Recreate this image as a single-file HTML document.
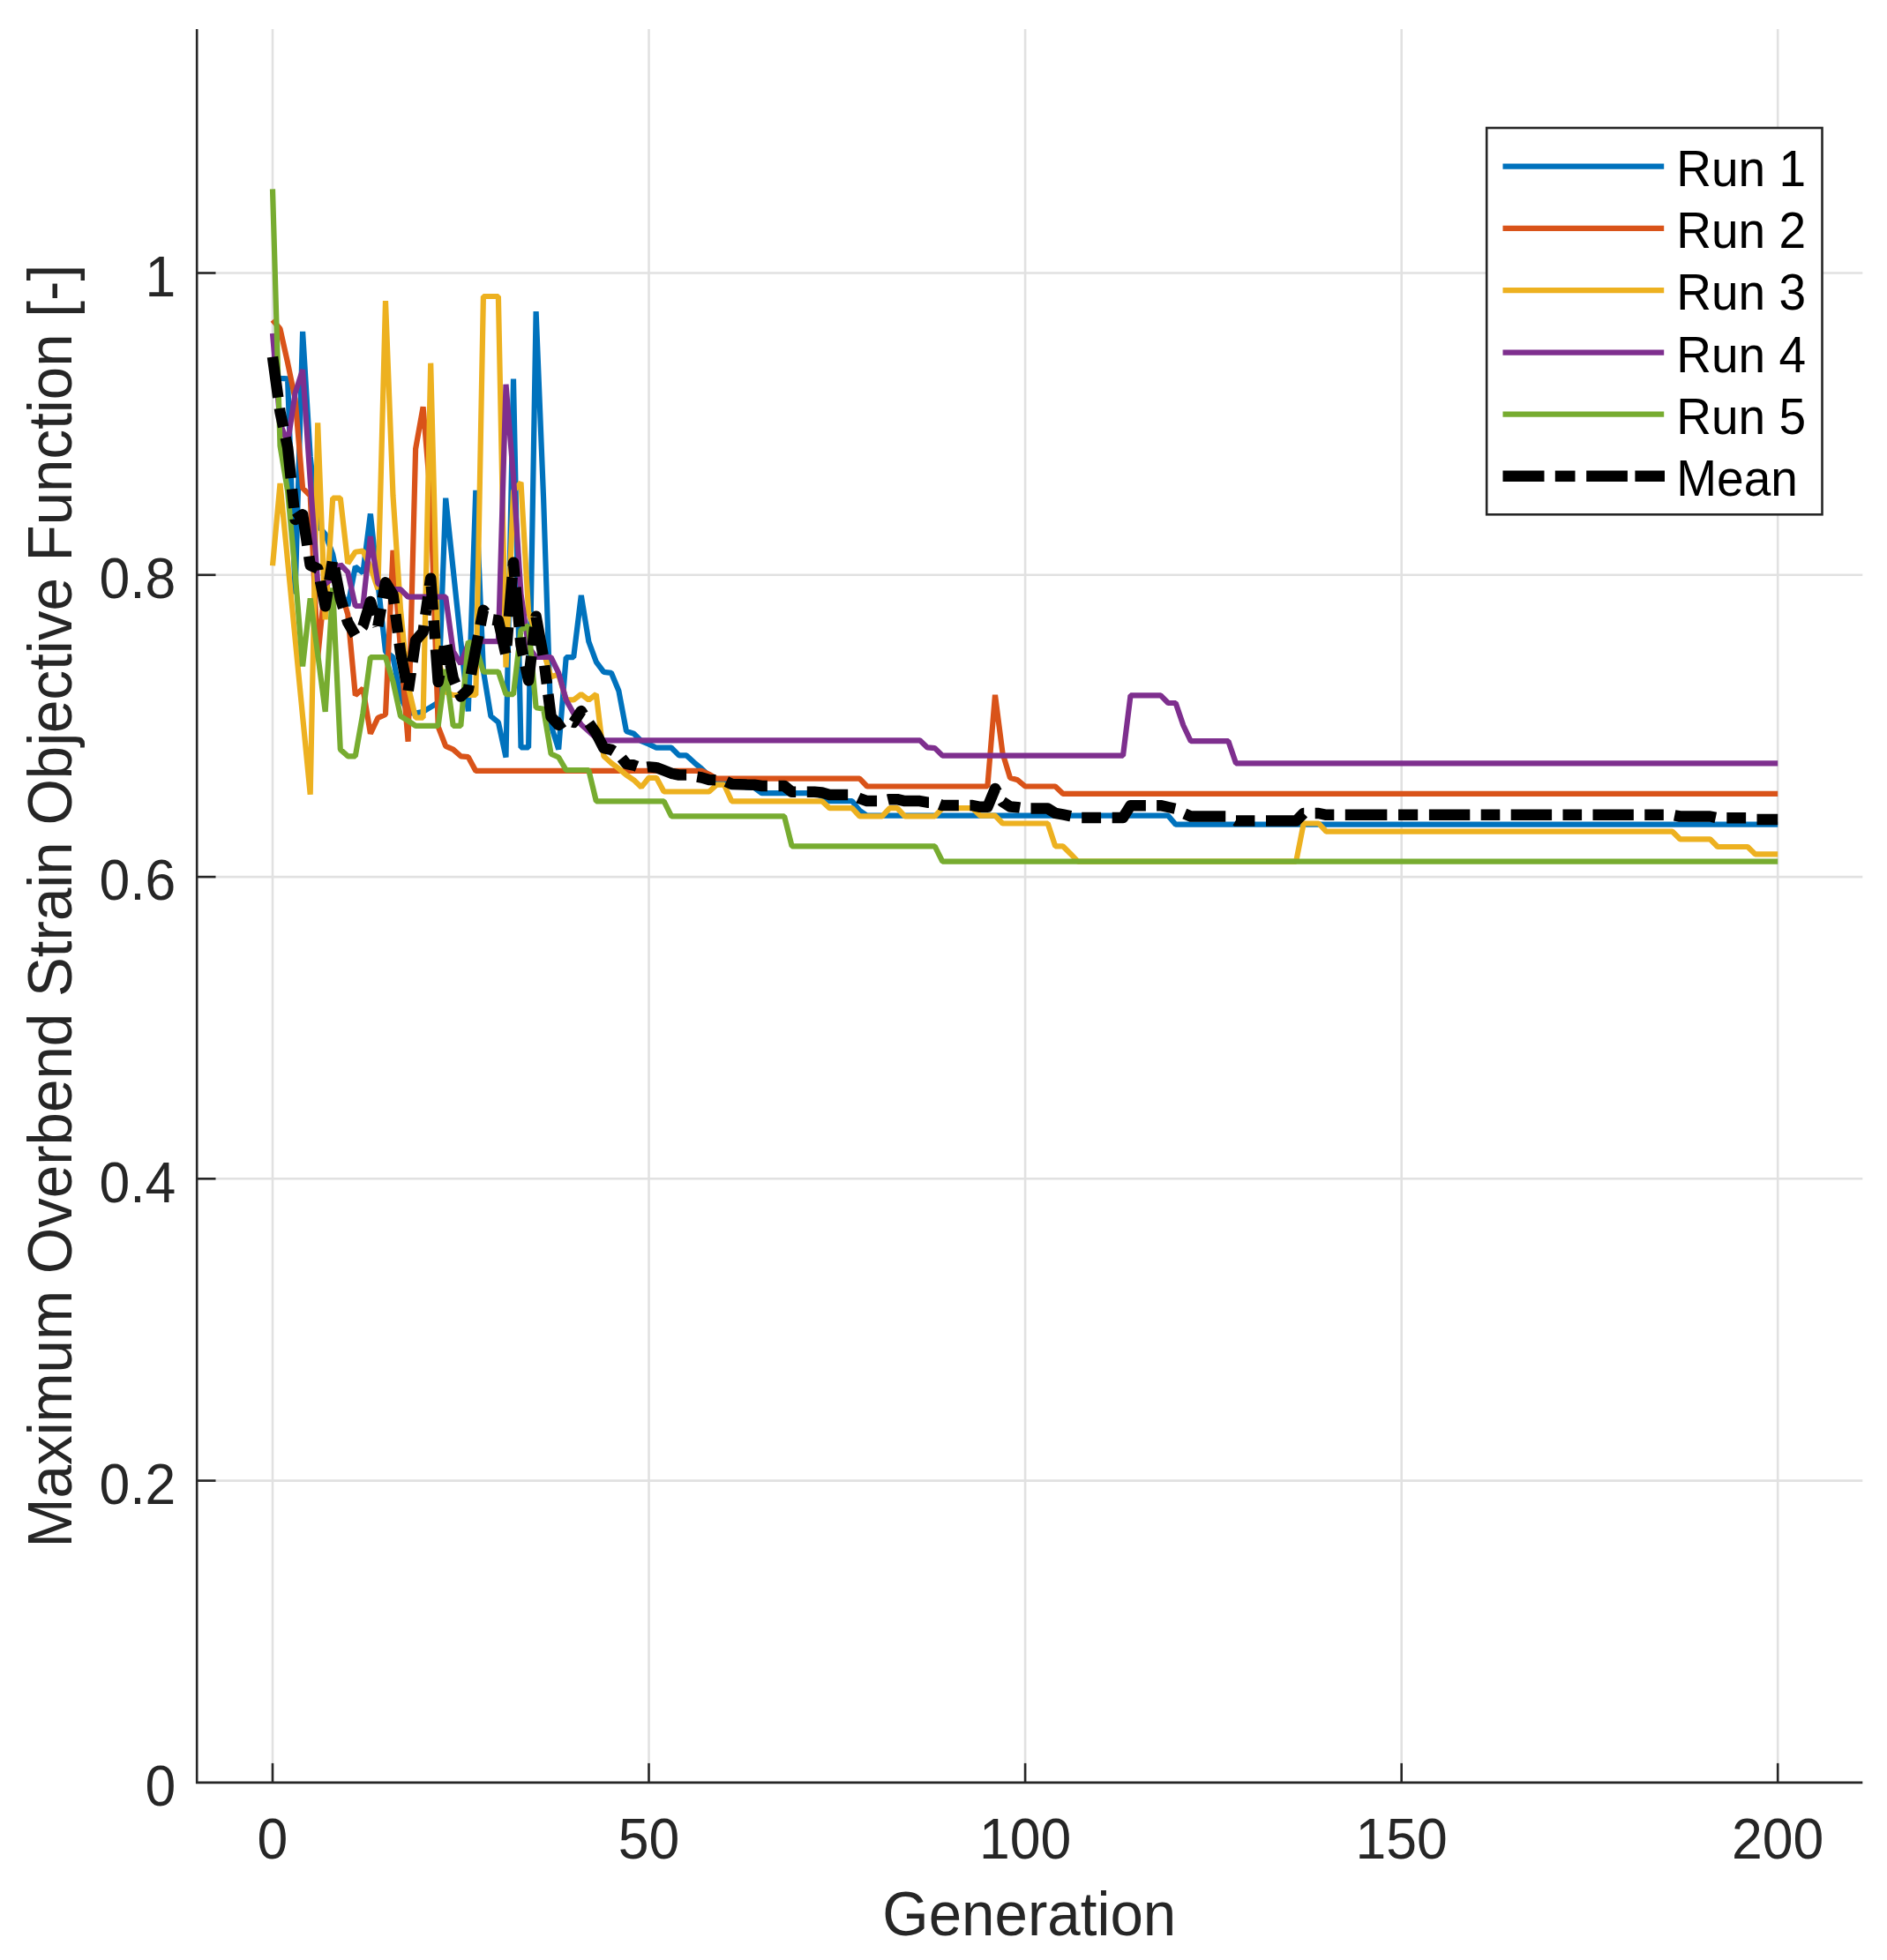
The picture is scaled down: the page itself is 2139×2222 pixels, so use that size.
<!DOCTYPE html>
<html><head><meta charset="utf-8"><title>Convergence</title>
<style>
html,body{margin:0;padding:0;background:#fff;}
body{width:2139px;height:2222px;overflow:hidden;}
svg{display:block;filter:blur(0.7px);}
text{font-family:"Liberation Sans",Arial,Helvetica,sans-serif;fill:#262626;font-kerning:none;}
.tick{font-size:62.5px;}
.lab{font-size:67.3px;}
.leg{font-size:55px;fill:#000;}
</style></head><body>
<svg width="2139" height="2222" viewBox="0 0 2139 2222">
<rect width="2139" height="2222" fill="#fff"/>

<g stroke="#e1e1e1" stroke-width="2.6" fill="none">
<line x1="309.0" y1="33.0" x2="309.0" y2="2020.9"/>
<line x1="735.5" y1="33.0" x2="735.5" y2="2020.9"/>
<line x1="1162.1" y1="33.0" x2="1162.1" y2="2020.9"/>
<line x1="1588.7" y1="33.0" x2="1588.7" y2="2020.9"/>
<line x1="2015.2" y1="33.0" x2="2015.2" y2="2020.9"/>
<line x1="223.2" y1="1678.6" x2="2111.3" y2="1678.6"/>
<line x1="223.2" y1="1336.3" x2="2111.3" y2="1336.3"/>
<line x1="223.2" y1="994.1" x2="2111.3" y2="994.1"/>
<line x1="223.2" y1="651.8" x2="2111.3" y2="651.8"/>
<line x1="223.2" y1="309.5" x2="2111.3" y2="309.5"/>
</g>
<g fill="none" stroke-linejoin="bevel" stroke-linecap="butt" stroke-width="6.2">
<path stroke="#0072BD" d="M309.0,426.7 L317.5,428.8 L326.1,429.3 L334.6,673.3 L343.1,375.9 L351.7,517.5 L360.2,595.4 L368.7,605.5 L377.2,628.4 L385.8,669.8 L394.3,687.0 L402.8,642.4 L411.4,649.3 L419.9,582.5 L428.4,661.3 L437.0,738.7 L445.5,745.0 L454.0,789.7 L462.6,808.5 L471.1,808.5 L479.6,806.8 L488.2,801.7 L496.7,796.5 L505.2,564.7 L513.7,645.9 L522.3,727.2 L530.8,806.3 L539.3,555.8 L547.9,760.6 L556.4,811.9 L564.9,818.8 L573.5,858.5 L582.0,429.5 L590.5,847.4 L599.1,847.4 L607.6,353.1 L616.1,565.4 L624.6,822.2 L633.2,849.6 L641.7,745.2 L650.2,745.2 L658.8,675.0 L667.3,727.2 L675.8,750.3 L684.4,761.9 L692.9,762.8 L701.4,783.3 L710.0,829.0 L718.5,831.8 L727.0,840.2 L735.5,843.6 L744.1,847.7 L752.6,847.7 L761.1,847.7 L769.7,856.4 L778.2,856.4 L786.7,864.3 L795.3,871.5 L803.8,879.6 L812.3,883.8 L820.9,887.3 L829.4,889.0 L837.9,890.7 L846.5,892.4 L855.0,892.9 L863.5,899.2 L872.0,899.2 L880.6,899.2 L889.1,899.2 L897.6,899.2 L906.2,899.2 L914.7,899.2 L923.2,899.2 L931.8,902.7 L940.3,908.1 L948.8,908.1 L957.4,908.1 L965.9,908.1 L974.4,918.9 L982.9,924.7 L991.5,924.7 L1000.0,924.7 L1008.5,924.7 L1017.1,924.7 L1025.6,924.7 L1034.1,924.7 L1042.7,924.7 L1051.2,924.7 L1059.7,924.7 L1068.3,924.7 L1076.8,924.7 L1085.3,924.7 L1093.9,924.7 L1102.4,924.7 L1110.9,924.7 L1119.4,924.7 L1128.0,924.7 L1136.5,924.7 L1145.0,924.7 L1153.6,924.7 L1162.1,924.7 L1170.6,924.7 L1179.2,924.7 L1187.7,924.7 L1196.2,924.7 L1204.8,924.7 L1213.3,924.7 L1221.8,924.7 L1230.3,924.7 L1238.9,924.7 L1247.4,924.7 L1255.9,924.7 L1264.5,924.7 L1273.0,924.7 L1281.5,924.7 L1290.1,924.7 L1298.6,924.7 L1307.1,924.7 L1315.7,924.7 L1324.2,924.7 L1332.7,934.7 L1341.3,934.7 L1349.8,934.7 L1358.3,934.7 L1366.8,934.7 L1375.4,934.7 L1383.9,934.7 L1392.4,934.7 L1401.0,934.7 L1409.5,934.7 L1418.0,934.7 L1426.6,934.7 L1435.1,934.7 L1443.6,934.7 L1452.2,934.7 L1460.7,934.7 L1469.2,934.7 L1477.7,934.7 L1486.3,934.7 L1494.8,934.7 L1503.3,934.7 L1511.9,934.7 L1520.4,934.7 L1528.9,934.7 L1537.5,934.7 L1546.0,934.7 L1554.5,934.7 L1563.1,934.7 L1571.6,934.7 L1580.1,934.7 L1588.7,934.7 L1597.2,934.7 L1605.7,934.7 L1614.2,934.7 L1622.8,934.7 L1631.3,934.7 L1639.8,934.7 L1648.4,934.7 L1656.9,934.7 L1665.4,934.7 L1674.0,934.7 L1682.5,934.7 L1691.0,934.7 L1699.6,934.7 L1708.1,934.7 L1716.6,934.7 L1725.1,934.7 L1733.7,934.7 L1742.2,934.7 L1750.7,934.7 L1759.3,934.7 L1767.8,934.7 L1776.3,934.7 L1784.9,934.7 L1793.4,934.7 L1801.9,934.7 L1810.5,934.7 L1819.0,934.7 L1827.5,934.7 L1836.0,934.7 L1844.6,934.7 L1853.1,934.7 L1861.6,934.7 L1870.2,934.7 L1878.7,934.7 L1887.2,934.7 L1895.8,934.7 L1904.3,934.7 L1912.8,934.7 L1921.4,934.7 L1929.9,934.7 L1938.4,934.7 L1947.0,934.7 L1955.5,934.7 L1964.0,934.7 L1972.5,934.7 L1981.1,934.7 L1989.6,934.7 L1998.1,934.7 L2006.7,934.7 L2015.2,934.7"/>
<path stroke="#D95319" d="M309.0,362.7 L317.5,372.8 L326.1,411.3 L334.6,452.4 L343.1,553.4 L351.7,562.0 L360.2,745.2 L368.7,659.6 L377.2,656.1 L385.8,668.1 L394.3,696.5 L402.8,788.3 L411.4,780.6 L419.9,831.8 L428.4,813.8 L437.0,810.0 L445.5,623.8 L454.0,736.6 L462.6,840.7 L471.1,508.9 L479.6,461.3 L488.2,565.4 L496.7,823.9 L505.2,845.8 L513.7,849.6 L522.3,857.3 L530.8,858.2 L539.3,873.9 L547.9,873.9 L556.4,873.9 L564.9,873.9 L573.5,873.9 L582.0,873.9 L590.5,873.9 L599.1,873.9 L607.6,873.9 L616.1,873.9 L624.6,873.9 L633.2,873.9 L641.7,873.9 L650.2,873.9 L658.8,873.9 L667.3,873.9 L675.8,873.9 L684.4,873.9 L692.9,873.9 L701.4,873.9 L710.0,873.9 L718.5,873.9 L727.0,873.9 L735.5,873.9 L744.1,873.9 L752.6,873.9 L761.1,873.9 L769.7,873.9 L778.2,873.9 L786.7,873.9 L795.3,873.9 L803.8,877.8 L812.3,882.6 L820.9,882.6 L829.4,882.6 L837.9,882.6 L846.5,882.6 L855.0,882.6 L863.5,882.6 L872.0,882.6 L880.6,882.6 L889.1,882.6 L897.6,882.6 L906.2,882.6 L914.7,882.6 L923.2,882.6 L931.8,882.6 L940.3,882.6 L948.8,882.6 L957.4,882.6 L965.9,882.6 L974.4,882.6 L982.9,891.5 L991.5,891.5 L1000.0,891.5 L1008.5,891.5 L1017.1,891.5 L1025.6,891.5 L1034.1,891.5 L1042.7,891.5 L1051.2,891.5 L1059.7,891.5 L1068.3,891.5 L1076.8,891.5 L1085.3,891.5 L1093.9,891.5 L1102.4,891.5 L1110.9,891.5 L1119.4,891.5 L1128.0,787.8 L1136.5,853.9 L1145.0,881.8 L1153.6,884.3 L1162.1,891.5 L1170.6,891.5 L1179.2,891.5 L1187.7,891.5 L1196.2,891.5 L1204.8,899.8 L1213.3,899.8 L1221.8,899.8 L1230.3,899.8 L1238.9,899.8 L1247.4,899.8 L1255.9,899.8 L1264.5,899.8 L1273.0,899.8 L1281.5,899.8 L1290.1,899.8 L1298.6,899.8 L1307.1,899.8 L1315.7,899.8 L1324.2,899.8 L1332.7,899.8 L1341.3,899.8 L1349.8,899.8 L1358.3,899.8 L1366.8,899.8 L1375.4,899.8 L1383.9,899.8 L1392.4,899.8 L1401.0,899.8 L1409.5,899.8 L1418.0,899.8 L1426.6,899.8 L1435.1,899.8 L1443.6,899.8 L1452.2,899.8 L1460.7,899.8 L1469.2,899.8 L1477.7,899.8 L1486.3,899.8 L1494.8,899.8 L1503.3,899.8 L1511.9,899.8 L1520.4,899.8 L1528.9,899.8 L1537.5,899.8 L1546.0,899.8 L1554.5,899.8 L1563.1,899.8 L1571.6,899.8 L1580.1,899.8 L1588.7,899.8 L1597.2,899.8 L1605.7,899.8 L1614.2,899.8 L1622.8,899.8 L1631.3,899.8 L1639.8,899.8 L1648.4,899.8 L1656.9,899.8 L1665.4,899.8 L1674.0,899.8 L1682.5,899.8 L1691.0,899.8 L1699.6,899.8 L1708.1,899.8 L1716.6,899.8 L1725.1,899.8 L1733.7,899.8 L1742.2,899.8 L1750.7,899.8 L1759.3,899.8 L1767.8,899.8 L1776.3,899.8 L1784.9,899.8 L1793.4,899.8 L1801.9,899.8 L1810.5,899.8 L1819.0,899.8 L1827.5,899.8 L1836.0,899.8 L1844.6,899.8 L1853.1,899.8 L1861.6,899.8 L1870.2,899.8 L1878.7,899.8 L1887.2,899.8 L1895.8,899.8 L1904.3,899.8 L1912.8,899.8 L1921.4,899.8 L1929.9,899.8 L1938.4,899.8 L1947.0,899.8 L1955.5,899.8 L1964.0,899.8 L1972.5,899.8 L1981.1,899.8 L1989.6,899.8 L1998.1,899.8 L2006.7,899.8 L2015.2,899.8"/>
<path stroke="#EDB120" d="M309.0,641.2 L317.5,548.1 L326.1,636.3 L334.6,724.3 L343.1,812.4 L351.7,900.6 L360.2,479.3 L368.7,702.4 L377.2,564.7 L385.8,564.7 L394.3,638.7 L402.8,625.8 L411.4,624.6 L419.9,642.4 L428.4,668.1 L437.0,341.1 L445.5,562.0 L454.0,690.4 L462.6,777.7 L471.1,813.6 L479.6,813.6 L488.2,411.7 L496.7,745.2 L505.2,784.5 L513.7,788.0 L522.3,788.0 L530.8,788.0 L539.3,788.0 L547.9,336.0 L556.4,336.0 L564.9,336.0 L573.5,756.5 L582.0,556.8 L590.5,546.9 L599.1,693.8 L607.6,719.5 L616.1,738.7 L624.6,767.4 L633.2,764.5 L641.7,793.4 L650.2,793.4 L658.8,787.1 L667.3,793.4 L675.8,787.1 L684.4,857.3 L692.9,865.0 L701.4,871.3 L710.0,878.7 L718.5,884.3 L727.0,892.4 L735.5,881.8 L744.1,881.8 L752.6,897.5 L761.1,897.5 L769.7,897.5 L778.2,897.5 L786.7,897.5 L795.3,897.5 L803.8,897.5 L812.3,889.7 L820.9,889.7 L829.4,908.3 L837.9,908.3 L846.5,908.3 L855.0,908.3 L863.5,908.3 L872.0,908.3 L880.6,908.3 L889.1,908.3 L897.6,908.3 L906.2,908.3 L914.7,908.3 L923.2,908.3 L931.8,908.3 L940.3,916.2 L948.8,916.2 L957.4,916.2 L965.9,916.2 L974.4,925.4 L982.9,925.4 L991.5,925.4 L1000.0,925.4 L1008.5,916.2 L1017.1,916.2 L1025.6,925.4 L1034.1,925.4 L1042.7,925.4 L1051.2,925.4 L1059.7,925.4 L1068.3,916.2 L1076.8,916.2 L1085.3,916.2 L1093.9,916.2 L1102.4,916.2 L1110.9,924.6 L1119.4,924.6 L1128.0,924.6 L1136.5,933.5 L1145.0,933.5 L1153.6,933.5 L1162.1,933.5 L1170.6,933.5 L1179.2,933.5 L1187.7,933.5 L1196.2,959.3 L1204.8,959.3 L1213.3,967.7 L1221.8,976.6 L1230.3,976.6 L1238.9,976.6 L1247.4,976.6 L1255.9,976.6 L1264.5,976.6 L1273.0,976.6 L1281.5,976.6 L1290.1,976.6 L1298.6,976.6 L1307.1,976.6 L1315.7,976.6 L1324.2,976.6 L1332.7,976.6 L1341.3,976.6 L1349.8,976.6 L1358.3,976.6 L1366.8,976.6 L1375.4,976.6 L1383.9,976.6 L1392.4,976.6 L1401.0,976.6 L1409.5,976.6 L1418.0,976.6 L1426.6,976.6 L1435.1,976.6 L1443.6,976.6 L1452.2,976.6 L1460.7,976.6 L1469.2,976.6 L1477.7,933.5 L1486.3,933.5 L1494.8,933.5 L1503.3,942.7 L1511.9,942.7 L1520.4,942.7 L1528.9,942.7 L1537.5,942.7 L1546.0,942.7 L1554.5,942.7 L1563.1,942.7 L1571.6,942.7 L1580.1,942.7 L1588.7,942.7 L1597.2,942.7 L1605.7,942.7 L1614.2,942.7 L1622.8,942.7 L1631.3,942.7 L1639.8,942.7 L1648.4,942.7 L1656.9,942.7 L1665.4,942.7 L1674.0,942.7 L1682.5,942.7 L1691.0,942.7 L1699.6,942.7 L1708.1,942.7 L1716.6,942.7 L1725.1,942.7 L1733.7,942.7 L1742.2,942.7 L1750.7,942.7 L1759.3,942.7 L1767.8,942.7 L1776.3,942.7 L1784.9,942.7 L1793.4,942.7 L1801.9,942.7 L1810.5,942.7 L1819.0,942.7 L1827.5,942.7 L1836.0,942.7 L1844.6,942.7 L1853.1,942.7 L1861.6,942.7 L1870.2,942.7 L1878.7,942.7 L1887.2,942.7 L1895.8,942.7 L1904.3,951.3 L1912.8,951.3 L1921.4,951.3 L1929.9,951.3 L1938.4,951.3 L1947.0,960.0 L1955.5,960.0 L1964.0,960.0 L1972.5,960.0 L1981.1,960.0 L1989.6,968.4 L1998.1,968.4 L2006.7,968.4 L2015.2,968.4"/>
<path stroke="#7E2F8E" d="M309.0,377.9 L317.5,479.8 L326.1,502.1 L334.6,445.6 L343.1,419.2 L351.7,544.9 L360.2,661.6 L368.7,662.1 L377.2,655.3 L385.8,639.9 L394.3,648.9 L402.8,687.0 L411.4,687.0 L419.9,608.2 L428.4,661.6 L437.0,666.4 L445.5,668.1 L454.0,668.1 L462.6,676.7 L471.1,676.7 L479.6,676.7 L488.2,676.7 L496.7,676.7 L505.2,676.7 L513.7,738.3 L522.3,752.7 L530.8,729.8 L539.3,727.2 L547.9,727.2 L556.4,727.2 L564.9,727.2 L573.5,435.8 L582.0,541.4 L590.5,673.3 L599.1,733.2 L607.6,745.0 L616.1,745.0 L624.6,745.0 L633.2,762.8 L641.7,793.4 L650.2,808.8 L658.8,821.5 L667.3,829.0 L675.8,836.8 L684.4,839.3 L692.9,839.3 L701.4,839.3 L710.0,839.3 L718.5,839.3 L727.0,839.3 L735.5,839.3 L744.1,839.3 L752.6,839.3 L761.1,839.3 L769.7,839.3 L778.2,839.3 L786.7,839.3 L795.3,839.3 L803.8,839.3 L812.3,839.3 L820.9,839.3 L829.4,839.3 L837.9,839.3 L846.5,839.3 L855.0,839.3 L863.5,839.3 L872.0,839.3 L880.6,839.3 L889.1,839.3 L897.6,839.3 L906.2,839.3 L914.7,839.3 L923.2,839.3 L931.8,839.3 L940.3,839.3 L948.8,839.3 L957.4,839.3 L965.9,839.3 L974.4,839.3 L982.9,839.3 L991.5,839.3 L1000.0,839.3 L1008.5,839.3 L1017.1,839.3 L1025.6,839.3 L1034.1,839.3 L1042.7,839.3 L1051.2,847.4 L1059.7,848.1 L1068.3,856.6 L1076.8,856.6 L1085.3,856.6 L1093.9,856.6 L1102.4,856.6 L1110.9,856.6 L1119.4,856.6 L1128.0,856.6 L1136.5,856.6 L1145.0,856.6 L1153.6,856.6 L1162.1,856.6 L1170.6,856.6 L1179.2,856.6 L1187.7,856.6 L1196.2,856.6 L1204.8,856.6 L1213.3,856.6 L1221.8,856.6 L1230.3,856.6 L1238.9,856.6 L1247.4,856.6 L1255.9,856.6 L1264.5,856.6 L1273.0,856.6 L1281.5,788.3 L1290.1,788.3 L1298.6,788.3 L1307.1,788.3 L1315.7,788.3 L1324.2,797.0 L1332.7,797.0 L1341.3,822.2 L1349.8,840.2 L1358.3,840.2 L1366.8,840.2 L1375.4,840.2 L1383.9,840.2 L1392.4,840.2 L1401.0,865.3 L1409.5,865.3 L1418.0,865.3 L1426.6,865.3 L1435.1,865.3 L1443.6,865.3 L1452.2,865.3 L1460.7,865.3 L1469.2,865.3 L1477.7,865.3 L1486.3,865.3 L1494.8,865.3 L1503.3,865.3 L1511.9,865.3 L1520.4,865.3 L1528.9,865.3 L1537.5,865.3 L1546.0,865.3 L1554.5,865.3 L1563.1,865.3 L1571.6,865.3 L1580.1,865.3 L1588.7,865.3 L1597.2,865.3 L1605.7,865.3 L1614.2,865.3 L1622.8,865.3 L1631.3,865.3 L1639.8,865.3 L1648.4,865.3 L1656.9,865.3 L1665.4,865.3 L1674.0,865.3 L1682.5,865.3 L1691.0,865.3 L1699.6,865.3 L1708.1,865.3 L1716.6,865.3 L1725.1,865.3 L1733.7,865.3 L1742.2,865.3 L1750.7,865.3 L1759.3,865.3 L1767.8,865.3 L1776.3,865.3 L1784.9,865.3 L1793.4,865.3 L1801.9,865.3 L1810.5,865.3 L1819.0,865.3 L1827.5,865.3 L1836.0,865.3 L1844.6,865.3 L1853.1,865.3 L1861.6,865.3 L1870.2,865.3 L1878.7,865.3 L1887.2,865.3 L1895.8,865.3 L1904.3,865.3 L1912.8,865.3 L1921.4,865.3 L1929.9,865.3 L1938.4,865.3 L1947.0,865.3 L1955.5,865.3 L1964.0,865.3 L1972.5,865.3 L1981.1,865.3 L1989.6,865.3 L1998.1,865.3 L2006.7,865.3 L2015.2,865.3"/>
<path stroke="#77AC30" d="M309.0,214.4 L317.5,505.5 L326.1,556.8 L334.6,649.3 L343.1,755.4 L351.7,678.4 L360.2,741.7 L368.7,806.8 L377.2,666.4 L385.8,849.6 L394.3,857.3 L402.8,857.3 L411.4,808.5 L419.9,745.2 L428.4,745.2 L437.0,745.2 L445.5,772.6 L454.0,811.9 L462.6,817.1 L471.1,822.9 L479.6,822.9 L488.2,822.9 L496.7,822.9 L505.2,758.9 L513.7,822.9 L522.3,822.9 L530.8,727.2 L539.3,733.2 L547.9,761.6 L556.4,761.6 L564.9,761.6 L573.5,787.1 L582.0,787.1 L590.5,714.3 L599.1,709.2 L607.6,802.3 L616.1,803.7 L624.6,854.7 L633.2,858.5 L641.7,873.0 L650.2,873.0 L658.8,873.0 L667.3,873.0 L675.8,908.3 L684.4,908.3 L692.9,908.3 L701.4,908.3 L710.0,908.3 L718.5,908.3 L727.0,908.3 L735.5,908.3 L744.1,908.3 L752.6,908.3 L761.1,925.4 L769.7,925.4 L778.2,925.4 L786.7,925.4 L795.3,925.4 L803.8,925.4 L812.3,925.4 L820.9,925.4 L829.4,925.4 L837.9,925.4 L846.5,925.4 L855.0,925.4 L863.5,925.4 L872.0,925.4 L880.6,925.4 L889.1,925.4 L897.6,959.3 L906.2,959.3 L914.7,959.3 L923.2,959.3 L931.8,959.3 L940.3,959.3 L948.8,959.3 L957.4,959.3 L965.9,959.3 L974.4,959.3 L982.9,959.3 L991.5,959.3 L1000.0,959.3 L1008.5,959.3 L1017.1,959.3 L1025.6,959.3 L1034.1,959.3 L1042.7,959.3 L1051.2,959.3 L1059.7,959.3 L1068.3,976.6 L1076.8,976.6 L1085.3,976.6 L1093.9,976.6 L1102.4,976.6 L1110.9,976.6 L1119.4,976.6 L1128.0,976.6 L1136.5,976.6 L1145.0,976.6 L1153.6,976.6 L1162.1,976.6 L1170.6,976.6 L1179.2,976.6 L1187.7,976.6 L1196.2,976.6 L1204.8,976.6 L1213.3,976.6 L1221.8,976.6 L1230.3,976.6 L1238.9,976.6 L1247.4,976.6 L1255.9,976.6 L1264.5,976.6 L1273.0,976.6 L1281.5,976.6 L1290.1,976.6 L1298.6,976.6 L1307.1,976.6 L1315.7,976.6 L1324.2,976.6 L1332.7,976.6 L1341.3,976.6 L1349.8,976.6 L1358.3,976.6 L1366.8,976.6 L1375.4,976.6 L1383.9,976.6 L1392.4,976.6 L1401.0,976.6 L1409.5,976.6 L1418.0,976.6 L1426.6,976.6 L1435.1,976.6 L1443.6,976.6 L1452.2,976.6 L1460.7,976.6 L1469.2,976.6 L1477.7,976.6 L1486.3,976.6 L1494.8,976.6 L1503.3,976.6 L1511.9,976.6 L1520.4,976.6 L1528.9,976.6 L1537.5,976.6 L1546.0,976.6 L1554.5,976.6 L1563.1,976.6 L1571.6,976.6 L1580.1,976.6 L1588.7,976.6 L1597.2,976.6 L1605.7,976.6 L1614.2,976.6 L1622.8,976.6 L1631.3,976.6 L1639.8,976.6 L1648.4,976.6 L1656.9,976.6 L1665.4,976.6 L1674.0,976.6 L1682.5,976.6 L1691.0,976.6 L1699.6,976.6 L1708.1,976.6 L1716.6,976.6 L1725.1,976.6 L1733.7,976.6 L1742.2,976.6 L1750.7,976.6 L1759.3,976.6 L1767.8,976.6 L1776.3,976.6 L1784.9,976.6 L1793.4,976.6 L1801.9,976.6 L1810.5,976.6 L1819.0,976.6 L1827.5,976.6 L1836.0,976.6 L1844.6,976.6 L1853.1,976.6 L1861.6,976.6 L1870.2,976.6 L1878.7,976.6 L1887.2,976.6 L1895.8,976.6 L1904.3,976.6 L1912.8,976.6 L1921.4,976.6 L1929.9,976.6 L1938.4,976.6 L1947.0,976.6 L1955.5,976.6 L1964.0,976.6 L1972.5,976.6 L1981.1,976.6 L1989.6,976.6 L1998.1,976.6 L2006.7,976.6 L2015.2,976.6"/>
</g>
<g fill="none" stroke="#000" stroke-width="12.5" stroke-linejoin="round" stroke-linecap="butt">
<path stroke-dasharray="46.40 12.40 21.60 12.40" d="M309.0,404.6 L317.5,467.0 L326.1,507.2 L334.6,589.0 L343.1,583.3 L351.7,640.7 L360.2,644.6 L368.7,687.3 L377.2,634.2 L385.8,678.4 L394.3,705.7 L402.8,720.2 L411.4,710.0 L419.9,682.0 L428.4,710.0"/>
<path stroke-dasharray="44.89 12.00 20.90 12.00" stroke-dashoffset="57.43" d="M428.4,710.0 L437.0,660.3 L445.5,674.3 L454.0,739.3 L462.6,784.1 L471.1,726.1 L479.6,716.3 L488.2,655.7 L496.7,773.0 L505.2,726.1 L513.7,768.9 L522.3,789.6 L530.8,781.9 L539.3,735.6 L547.9,691.8 L556.4,702.1 L564.9,703.5 L573.5,742.4 L582.0,637.7 L590.5,731.2 L599.1,771.5 L607.6,698.8 L616.1,745.3 L624.6,812.6 L633.2,821.9 L641.7,815.8 L650.2,818.9 L658.8,806.1 L667.3,819.3 L675.8,831.3 L684.4,848.2 L692.9,849.9 L701.4,855.2 L710.0,865.9 L718.5,867.5 L727.0,870.8 L733.5,869.7"/>
<path stroke-dasharray="46.08 12.31 21.45 12.31" d="M733.5,869.7 L735.5,869.4 L744.1,870.2 L752.6,873.4 L761.1,876.8 L769.7,878.5 L778.2,878.5 L786.7,880.1 L795.3,881.5 L803.8,883.9 L812.3,884.2 L820.9,884.9 L823.3,886.0"/>
<path stroke-dasharray="47.32 12.64 22.03 12.64" d="M823.3,886.0 L829.4,888.9 L837.9,889.3 L846.5,889.6 L855.0,889.7 L863.5,891.0 L872.0,891.0 L880.6,891.0 L889.1,891.0 L897.6,897.8 L906.2,897.8 L914.7,897.8 L914.8,897.8"/>
<path stroke-dasharray="46.79 12.50 21.78 12.50" d="M914.8,897.8 L923.2,897.8 L931.8,898.5 L940.3,901.1 L948.8,901.1 L957.4,901.1 L965.9,901.1 L974.4,905.1 L982.9,908.1 L991.5,908.1 L1000.0,908.1 L1006.4,906.7"/>
<path stroke-dasharray="47.01 12.56 21.88 12.56" d="M1006.4,906.7 L1008.5,906.2 L1017.1,906.2 L1025.6,908.1 L1034.1,908.1 L1042.7,908.1 L1051.2,909.7 L1059.7,909.8 L1068.3,913.1 L1076.8,913.1 L1085.3,913.1 L1093.9,913.1 L1099.4,913.1"/>
<path stroke-dasharray="46.84 12.52 21.81 12.52" d="M1099.4,913.1 L1102.4,913.1 L1110.9,914.8 L1119.4,914.8 L1128.0,894.1 L1136.5,909.1 L1145.0,914.6 L1153.6,915.2 L1162.1,916.6 L1168.5,916.6"/>
<path stroke-dasharray="47.07 12.58 21.91 12.58" d="M1168.5,916.6 L1170.6,916.6 L1179.2,916.6 L1187.7,916.6 L1196.2,921.8 L1204.8,923.4 L1213.3,925.1 L1221.8,926.9 L1230.3,926.9 L1238.9,926.9 L1247.4,926.9 L1255.9,926.9 L1260.7,926.9"/>
<path stroke-dasharray="45.79 12.24 21.32 12.24" d="M1260.7,926.9 L1264.5,926.9 L1273.0,926.9 L1281.5,913.2 L1290.1,913.2 L1298.6,913.2 L1307.1,913.2 L1315.7,913.2 L1324.2,915.0 L1332.7,916.9 L1341.3,922.0 L1342.8,922.6"/>
<path stroke-dasharray="47.08 12.58 21.92 12.58" d="M1342.8,922.6 L1349.8,925.6 L1358.3,925.6 L1366.8,925.6 L1375.4,925.6 L1383.9,925.6 L1392.4,925.6 L1401.0,930.6 L1409.5,930.6 L1418.0,930.6 L1426.6,930.6 L1435.0,930.6"/>
<path stroke-dasharray="46.80 12.51 21.79 12.51" d="M1435.0,930.6 L1435.1,930.6 L1443.6,930.6 L1452.2,930.6 L1460.7,930.6 L1469.2,930.6 L1477.7,922.0 L1486.3,922.0 L1494.8,922.0 L1503.3,923.8 L1511.9,923.8 L1520.4,923.8 L1524.8,923.8"/>
<path stroke-dasharray="47.55 12.71 22.14 12.71" d="M1524.8,923.8 L1528.9,923.8 L1537.5,923.8 L1546.0,923.8 L1554.5,923.8 L1563.1,923.8 L1571.6,923.8 L1580.1,923.8 L1588.7,923.8 L1597.2,923.8 L1605.7,923.8 L1614.2,923.8 L1619.9,923.8"/>
<path stroke-dasharray="46.40 12.40 21.60 12.40" d="M1619.9,923.8 L1622.8,923.8 L1631.3,923.8 L1639.8,923.8 L1648.4,923.8 L1656.9,923.8 L1665.4,923.8 L1674.0,923.8 L1682.5,923.8 L1691.0,923.8 L1699.6,923.8 L1708.1,923.8 L1712.7,923.8"/>
<path stroke-dasharray="46.40 12.40 21.60 12.40" d="M1712.7,923.8 L1716.6,923.8 L1725.1,923.8 L1733.7,923.8 L1742.2,923.8 L1750.7,923.8 L1759.3,923.8 L1767.8,923.8 L1776.3,923.8 L1784.9,923.8 L1793.4,923.8 L1801.9,923.8 L1805.5,923.8"/>
<path stroke-dasharray="46.37 12.39 21.59 12.39" d="M1805.5,923.8 L1810.5,923.8 L1819.0,923.8 L1827.5,923.8 L1836.0,923.8 L1844.6,923.8 L1853.1,923.8 L1861.6,923.8 L1870.2,923.8 L1878.7,923.8 L1887.2,923.8 L1895.8,923.8 L1898.2,924.3"/>
<path stroke-dasharray="46.88 12.53 21.82 12.53" d="M1898.2,924.3 L1904.3,925.5 L1912.8,925.5 L1921.4,925.5 L1929.9,925.5 L1938.4,925.5 L1947.0,927.3 L1955.5,927.3 L1964.0,927.3 L1972.5,927.3 L1981.1,927.3 L1989.6,929.0 L1991.5,929.0"/>
<path stroke-dasharray="46.40 12.40 21.60 12.40" d="M1991.5,929.0 L1998.1,929.0 L2006.7,929.0 L2015.2,929.0"/>
</g>
<g stroke="#262626" stroke-width="2.6" fill="none">
<path d="M223.2,33.0 L223.2,2020.9 L2111.3,2020.9" stroke-linejoin="miter"/>
<line x1="309.0" y1="2020.9" x2="309.0" y2="1998.9"/>
<line x1="735.5" y1="2020.9" x2="735.5" y2="1998.9"/>
<line x1="1162.1" y1="2020.9" x2="1162.1" y2="1998.9"/>
<line x1="1588.7" y1="2020.9" x2="1588.7" y2="1998.9"/>
<line x1="2015.2" y1="2020.9" x2="2015.2" y2="1998.9"/>
<line x1="223.2" y1="1678.6" x2="244.5" y2="1678.6"/>
<line x1="223.2" y1="1336.3" x2="244.5" y2="1336.3"/>
<line x1="223.2" y1="994.1" x2="244.5" y2="994.1"/>
<line x1="223.2" y1="651.8" x2="244.5" y2="651.8"/>
<line x1="223.2" y1="309.5" x2="244.5" y2="309.5"/>
</g>
<text class="tick" transform="translate(309.0,2107.2) scale(1,1.04)" text-anchor="middle">0</text>
<text class="tick" transform="translate(735.5,2107.2) scale(1,1.04)" text-anchor="middle">50</text>
<text class="tick" transform="translate(1162.1,2107.2) scale(1,1.04)" text-anchor="middle">100</text>
<text class="tick" transform="translate(1588.7,2107.2) scale(1,1.04)" text-anchor="middle">150</text>
<text class="tick" transform="translate(2015.2,2107.2) scale(1,1.04)" text-anchor="middle">200</text>
<text class="tick" transform="translate(199.3,2047.1) scale(1,1.04)" text-anchor="end">0</text>
<text class="tick" transform="translate(199.3,1704.8) scale(1,1.04)" text-anchor="end">0.2</text>
<text class="tick" transform="translate(199.3,1362.5) scale(1,1.04)" text-anchor="end">0.4</text>
<text class="tick" transform="translate(199.3,1020.3) scale(1,1.04)" text-anchor="end">0.6</text>
<text class="tick" transform="translate(199.3,678.0) scale(1,1.04)" text-anchor="end">0.8</text>
<text class="tick" transform="translate(199.3,335.7) scale(1,1.04)" text-anchor="end">1</text>
<text class="lab" transform="translate(1166.8,2194) scale(1,1.04)" text-anchor="middle">Generation</text>
<text class="lab" transform="translate(81.3,1027.2) rotate(-90) scale(1,1.04)" text-anchor="middle">Maximum Overbend Strain Objective Function [-]</text>
<rect x="1685.2" y="145.0" width="380.3" height="438.3" fill="#fff" stroke="#262626" stroke-width="2.6"/>
<line x1="1703.5" y1="188.6" x2="1886.2" y2="188.6" stroke="#0072BD" stroke-width="6.2"/>
<line x1="1703.5" y1="258.8" x2="1886.2" y2="258.8" stroke="#D95319" stroke-width="6.2"/>
<line x1="1703.5" y1="329.1" x2="1886.2" y2="329.1" stroke="#EDB120" stroke-width="6.2"/>
<line x1="1703.5" y1="399.6" x2="1886.2" y2="399.6" stroke="#7E2F8E" stroke-width="6.2"/>
<line x1="1703.5" y1="469.6" x2="1886.2" y2="469.6" stroke="#77AC30" stroke-width="6.2"/>
<line x1="1703.5" y1="539.8" x2="1750.5" y2="539.8" stroke="#000" stroke-width="12.5"/>
<line x1="1762.8" y1="539.8" x2="1785.5" y2="539.8" stroke="#000" stroke-width="12.5"/>
<line x1="1798.2" y1="539.8" x2="1844.9" y2="539.8" stroke="#000" stroke-width="12.5"/>
<line x1="1853.4" y1="539.8" x2="1887.0" y2="539.8" stroke="#000" stroke-width="12.5"/>
<text class="leg" transform="translate(1900.3,210.9) scale(1,1.04)">Run 1</text>
<text class="leg" transform="translate(1900.3,281.1) scale(1,1.04)">Run 2</text>
<text class="leg" transform="translate(1900.3,351.4) scale(1,1.04)">Run 3</text>
<text class="leg" transform="translate(1900.3,421.9) scale(1,1.04)">Run 4</text>
<text class="leg" transform="translate(1900.3,491.9) scale(1,1.04)">Run 5</text>
<text class="leg" transform="translate(1900.3,562.1) scale(1,1.04)">Mean</text>
</svg></body></html>
